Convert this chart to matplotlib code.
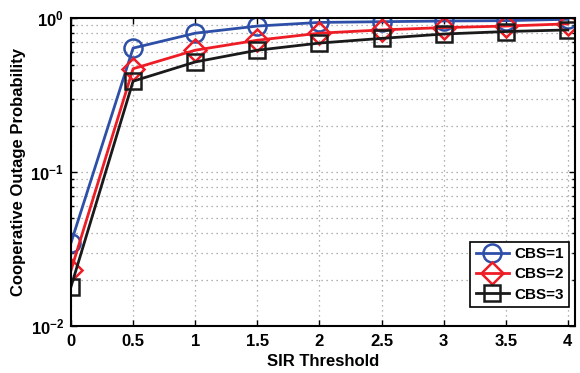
import matplotlib

matplotlib.use("Agg")
import matplotlib.pyplot as plt  # noqa: E402
from matplotlib.ticker import LogLocator, NullFormatter  # noqa: E402

# values
sir_threshold = [0, 0.5, 1, 1.5, 2, 2.5, 3, 3.5, 4]
cbs1 = [0.0347, 0.64, 0.80, 0.89, 0.94, 0.95, 0.96, 0.965, 0.985]
cbs2 = [0.023, 0.47, 0.62, 0.72, 0.80, 0.84, 0.87, 0.89, 0.92]
cbs3 = [0.018, 0.39, 0.52, 0.62, 0.69, 0.74, 0.79, 0.82, 0.84]
series_labels = ["CBS=1", "CBS=2", "CBS=3"]
x_ticks = [0, 0.5, 1, 1.5, 2, 2.5, 3, 3.5, 4]
x_tick_labels = ["0", "0.5", "1", "1.5", "2", "2.5", "3", "3.5", "4"]

plt.rcParams.update({
    "font.family": ["Liberation Sans", "DejaVu Sans"],
    "font.weight": "bold",
    "font.size": 11.5,
    "axes.labelweight": "bold",
})

fig = plt.figure(figsize=(5.8, 3.73), dpi=100)
ax = fig.add_axes([0.1224, 0.126, 0.8686, 0.825])

styles = [
    ("#2E4FA8", "o", 13),
    ("#EE1C25", "D", 11),
    ("#1A1A1A", "s", 11),
]
for ys, lab, (c, m, ms) in zip([cbs1, cbs2, cbs3], series_labels, styles):
    ax.plot(sir_threshold, ys, color=c, marker=m, markersize=ms,
            markerfacecolor="none", markeredgewidth=1.8, linewidth=2.0,
            label=lab)

ax.set_yscale("log")
ax.set_ylim(1e-2, 1e0)
ax.set_xlim(0, 4.056)
ax.set_xticks(x_ticks)
ax.set_xticklabels(x_tick_labels)
ax.yaxis.set_minor_locator(LogLocator(base=10, subs=range(2, 10)))
ax.yaxis.set_minor_formatter(NullFormatter())

ax.tick_params(which="both", direction="in", top=True, right=True,
               width=1.0, labelsize=12)
ax.tick_params(which="major", length=4)
ax.tick_params(which="minor", length=2)
ax.tick_params(axis="x", which="major", pad=6)
ax.tick_params(axis="y", which="major", pad=5)
for sp in ax.spines.values():
    sp.set_linewidth(1.5)

grid_kw = dict(linestyle=(0, (1, 3)), color="#999999", linewidth=0.9)
ax.grid(which="major", axis="both", **grid_kw)
ax.grid(which="minor", axis="y", **grid_kw)

ax.set_xlabel("SIR Threshold", fontsize=12, fontweight="bold", labelpad=3)
ax.set_ylabel("Cooperative Outage Probability", fontsize=12,
              fontweight="bold", labelpad=3)

leg = ax.legend(loc="lower right", bbox_to_anchor=(0.988, 0.062),
                fancybox=False, edgecolor="black", framealpha=1,
                borderpad=0.35, labelspacing=0.4, handlelength=2.2,
                handletextpad=0.3, borderaxespad=0.0,
                prop={"weight": "bold", "size": 11})
leg.get_frame().set_linewidth(1.2)

fig.savefig("out.png", dpi=100)
